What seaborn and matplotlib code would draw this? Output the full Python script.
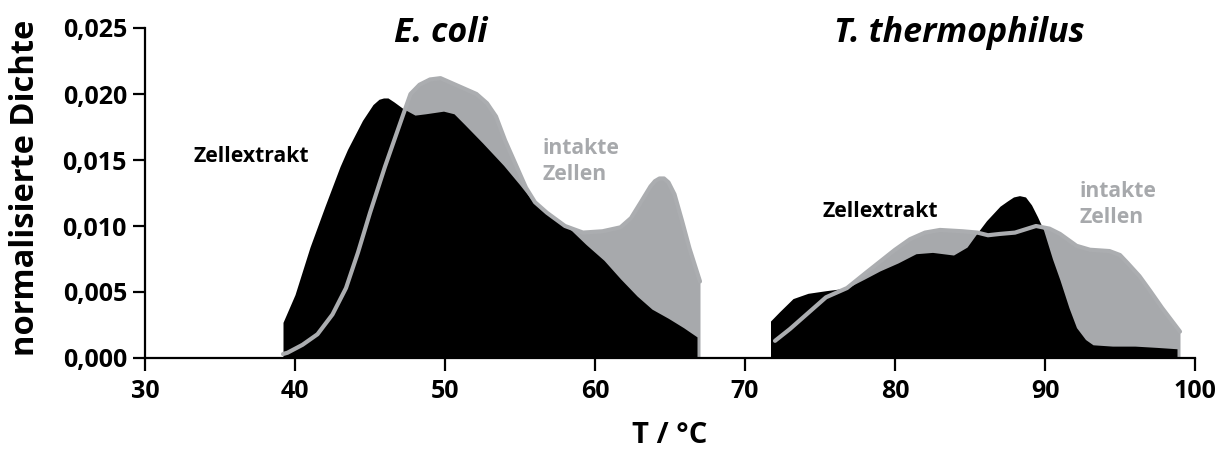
import matplotlib
matplotlib.use("Agg")
import matplotlib.pyplot as plt
import seaborn as sns
import pandas as pd
from matplotlib.ticker import FuncFormatter

# ---- data ----
ecoli_extract_T = [39.2, 40.0, 41.0, 42.0, 43.0, 43.5, 44.5, 45.2, 45.6, 45.9, 46.2, 46.6, 47.2,
                   48.0, 48.7, 49.9, 50.6, 51.3, 52.5, 53.9, 55.0, 55.9, 56.8, 57.7, 58.3, 59.4,
                   60.6, 61.7, 62.8, 63.8, 64.9, 65.9, 66.8]
ecoli_extract_D = [0.0027, 0.0048, 0.0084, 0.0115, 0.0145, 0.0158, 0.0180, 0.0192, 0.0196, 0.0197,
                   0.0197, 0.0194, 0.0189, 0.0184, 0.0185, 0.0187, 0.0185, 0.0177, 0.0163, 0.0146,
                   0.0131, 0.0118, 0.0110, 0.0104, 0.0098, 0.0086, 0.0074, 0.0060, 0.0047, 0.0037,
                   0.0030, 0.0023, 0.0016]

ecoli_intact_T = [39.2, 39.5, 40.5, 41.5, 42.5, 43.4, 44.2, 45.0, 46.0, 47.2, 47.7, 48.3, 49.0,
                  49.7, 50.5, 51.5, 52.1, 52.8, 53.4, 54.0, 54.7, 55.4, 56.0, 56.8, 58.0, 59.2,
                  60.5, 61.7, 62.4, 63.0, 63.7, 64.0, 64.3, 64.6, 64.9, 65.3, 65.8, 66.3, 67.0]
ecoli_intact_D = [0.0003, 0.0004, 0.0010, 0.0018, 0.0033, 0.0053, 0.0080, 0.0110, 0.0145, 0.0184,
                  0.0200, 0.0207, 0.0211, 0.0212, 0.0208, 0.0203, 0.0200, 0.0193, 0.0183, 0.0165,
                  0.0147, 0.0129, 0.0118, 0.0110, 0.0100, 0.0095, 0.0096, 0.0099, 0.0106, 0.0117,
                  0.0130, 0.0134, 0.0136, 0.0136, 0.0133, 0.0124, 0.0104, 0.0083, 0.0058]

thermo_extract_T = [71.7, 72.3, 73.2, 74.2, 75.4, 76.8, 78.0, 79.0, 80.2, 81.4, 82.5, 83.9, 84.8,
                    85.5, 86.1, 87.0, 87.5, 87.9, 88.3, 88.7, 89.1, 89.5, 89.9, 90.5, 91.0, 91.6,
                    92.1, 92.7, 93.2, 94.5, 96.0, 97.5, 98.8]
thermo_extract_D = [0.0028, 0.0035, 0.0045, 0.0049, 0.0051, 0.0053, 0.0060, 0.0066, 0.0072, 0.0079,
                    0.0080, 0.0078, 0.0084, 0.0095, 0.0104, 0.0115, 0.0119, 0.0122, 0.0123, 0.0122,
                    0.0116, 0.0107, 0.0097, 0.0075, 0.0059, 0.0038, 0.0023, 0.0014, 0.0010, 0.0009,
                    0.0009, 0.0008, 0.0007]

thermo_intact_T = [72.0, 73.0, 74.0, 75.4, 76.8, 78.0, 79.0, 80.0, 81.0, 82.0, 83.0, 84.5, 85.5,
                   86.2, 87.0, 88.0, 89.4, 90.3, 91.0, 92.1, 93.0, 94.3, 95.0, 95.5, 96.3, 97.0,
                   97.8, 98.8, 99.0]
thermo_intact_D = [0.0013, 0.0022, 0.0032, 0.0046, 0.0053, 0.0064, 0.0073, 0.0082, 0.0090, 0.0095,
                   0.0097, 0.0096, 0.0095, 0.0093, 0.0094, 0.0095, 0.0100, 0.0098, 0.0094, 0.0085,
                   0.0082, 0.0081, 0.0078, 0.0072, 0.0062, 0.0051, 0.0038, 0.0023, 0.0020]

x_ticks = [30, 40, 50, 60, 70, 80, 90, 100]
y_ticks = [0.000, 0.005, 0.010, 0.015, 0.020, 0.025]

GREY = "#A7A9AC"
LINE_GREY = "#ABADB0"

sns.set_theme(style="ticks")
plt.rcParams["font.family"] = ["Open Sans", "DejaVu Sans"]
plt.rcParams["font.weight"] = "bold"

fig = plt.figure(figsize=(12.21, 4.53), dpi=100)
ax = fig.add_axes([145 / 1221, 1 - 358 / 453, 1050 / 1221, 330 / 453])

intact = pd.concat([
    pd.DataFrame({"T": ecoli_intact_T, "D": ecoli_intact_D, "grp": "E. coli"}),
    pd.DataFrame({"T": thermo_intact_T, "D": thermo_intact_D, "grp": "T. thermophilus"}),
])
extract = pd.concat([
    pd.DataFrame({"T": ecoli_extract_T, "D": ecoli_extract_D, "grp": "E. coli"}),
    pd.DataFrame({"T": thermo_extract_T, "D": thermo_extract_D, "grp": "T. thermophilus"}),
])

for g, sub in intact.groupby("grp"):
    ax.fill_between(sub["T"], 0, sub["D"], color=GREY, lw=0, zorder=1)
for g, sub in extract.groupby("grp"):
    ax.fill_between(sub["T"], 0, sub["D"], color="black", lw=0, zorder=2)

sns.lineplot(data=intact, x="T", y="D", units="grp", estimator=None, sort=False,
             color=LINE_GREY, lw=3.0, ax=ax, zorder=3)

ax.set_xlim(30, 100)
ax.set_ylim(0, 0.025)
ax.set_xticks(x_ticks)
ax.set_yticks(y_ticks)
ax.yaxis.set_major_formatter(FuncFormatter(lambda v, p: f"{v:.3f}".replace(".", ",")))
ax.tick_params(axis="both", direction="out", length=9, width=1.6, labelsize=18, colors="black")
ax.tick_params(axis="y", pad=4)
ax.tick_params(axis="x", pad=6)
for lab in ax.get_xticklabels() + ax.get_yticklabels():
    lab.set_fontweight("bold")
for s in ["top", "right"]:
    ax.spines[s].set_visible(False)
for s in ["left", "bottom"]:
    ax.spines[s].set_linewidth(1.6)
    ax.spines[s].set_color("black")

ax.set_xlabel("T / °C", fontsize=21, fontweight="bold", color="black")
ax.set_ylabel("normalisierte Dichte", fontsize=23.5, fontweight="bold", color="black")
ax.xaxis.set_label_coords(0.5, -0.19)
ax.yaxis.set_label_coords(-0.098, 0.517)

ax.text(49.7, 0.0246, "E. coli", fontsize=24.5, fontweight="bold", style="italic",
        ha="center", va="center", color="black")
ax.text(84.3, 0.0246, "T. thermophilus", fontsize=24.5, fontweight="bold", style="italic",
        ha="center", va="center", color="black")

ax.text(37.1, 0.0153, "Zellextrakt", fontsize=15.2, fontweight="bold", ha="center", va="center",
        color="black")
ax.text(56.5, 0.0149, "intakte\nZellen", fontsize=15.2, fontweight="bold", ha="left", va="center",
        color=GREY, linespacing=1.3)
ax.text(79.0, 0.0111, "Zellextrakt", fontsize=15.2, fontweight="bold", ha="center", va="center",
        color="black")
ax.text(92.3, 0.0116, "intakte\nZellen", fontsize=15.2, fontweight="bold", ha="left", va="center",
        color=GREY, linespacing=1.3)

fig.savefig("out.png", dpi=100)
